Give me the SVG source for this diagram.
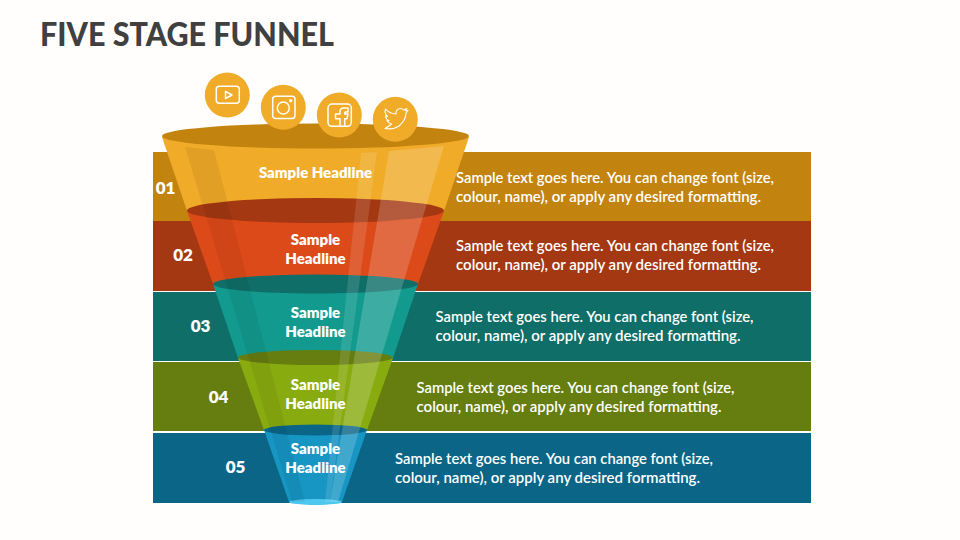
<svg xmlns="http://www.w3.org/2000/svg" width="960" height="540" viewBox="0 0 960 540">
<style>
text{font-family:"Lato","Noto Sans","Liberation Sans",sans-serif;fill:#fff;font-weight:700}
.t{font-size:15.5px;font-weight:600}
.h{font-size:15px;text-anchor:middle;font-weight:800}
.n{font-size:17px;text-anchor:middle;font-weight:800}
.dk{fill:#000;fill-opacity:.06}
.lt{fill:#fff;fill-opacity:.18}
.lt2{fill:#fff;fill-opacity:.12}
.ic{fill:none;stroke:#fff;stroke-width:1.5;stroke-linejoin:round}
.c{fill:#f0ab28}
</style>
<rect width="960" height="540" fill="#fffefd"/>
<text x="40" y="45.500" style="font-size:32px;fill:#404040;font-weight:900" textLength="294" lengthAdjust="spacingAndGlyphs">FIVE STAGE FUNNEL</text>
<g id="band1"><rect x="153" y="152" width="658" height="69" fill="#c2840f"/></g>
<g id="band2"><rect x="153" y="221" width="658" height="70" fill="#a33812"/></g>
<g id="band3"><rect x="153" y="292" width="658" height="69" fill="#0f6e68"/></g>
<g id="band4"><rect x="153" y="362" width="658" height="69" fill="#667d0f"/></g>
<g id="band5"><rect x="153" y="433" width="658" height="70" fill="#0a6587"/></g>
<g id="funnel">
<path d="M162 137L469 137L444 211L187 211Z" fill="#f0ab28"/>
<ellipse cx="315.5" cy="136" rx="153.5" ry="12.5" fill="#c2840f"/>
<path d="M187 211L444 211L418 284L213 284Z" fill="#dc4a1a"/>
<ellipse cx="315.5" cy="210.5" rx="128.5" ry="12.5" fill="#a33812"/>
<path d="M213 284L418 284L393 358L238 358Z" fill="#139a8e"/>
<ellipse cx="315.5" cy="284" rx="102.5" ry="9.5" fill="#0f6e68"/>
<path d="M238 358L393 358L367 430L264 430Z" fill="#88ab0f"/>
<ellipse cx="315.5" cy="357.5" rx="77.5" ry="7.5" fill="#667d0f"/>
<path d="M264 430L367 430L342 502L289 502Z" fill="#1795c3"/>
<ellipse cx="315.5" cy="430" rx="51.5" ry="5.5" fill="#0a6587"/>
<ellipse cx="315.5" cy="502" rx="26.5" ry="3" fill="#4fc8f0"/>
<path class="dk" d="M185 147L214 150L305 502L292 502Z"/>
<path class="lt2" d="M361 153L377 152L330 502L325 502Z"/>
<path class="lt" d="M389 151L444 146L338 502L330 502Z"/>
</g>
<g id="icon1"><circle class="c" cx="227.3" cy="95" r="22.5"/><rect class="ic" x="216.300" y="86.300" width="23" height="17" rx="3"/><path class="ic" d="M225.500 91.300L232 95L225.500 98.500Z"/></g>
<g id="icon2"><circle class="c" cx="283.300" cy="107.300" r="22.500"/><rect class="ic" x="272.700" y="96.200" width="22.300" height="22.300" rx="3"/><circle class="ic" cx="283.300" cy="108" r="6"/><circle cx="290.700" cy="100.700" r="1.700" fill="#fff"/></g>
<g id="icon3"><circle class="c" cx="339.300" cy="115" r="22.500"/><rect class="ic" x="328" y="104" width="23.300" height="22.300" rx="4"/><path class="ic" d="M340 126.300V118.700H335.500V114H340V111.500Q340 108 344 108H348V112H345.500Q344.700 112 344.700 113V114H348L347 118.700H344.700V126.300"/></g>
<g id="icon4"><circle class="c" cx="395.300" cy="119.300" r="22.500"/><path class="ic" style="stroke-width:1.100" d="M385 128.500Q393 130 399 126Q406 120 406 113L408 110.500L405.500 110.800L407 108.500L404 110Q400 107 397 110Q395.500 112 396 114Q390 114 385.500 109Q384 113 387.500 116.500L385.500 116Q386 119.500 389 120.500L387 120.500Q388 123 391.500 124Q388.500 126.500 385 128.500Z"/></g>
<g id="labels">
<text class="h" x="315.500" y="177.500">Sample Headline</text>
<text class="h" x="315.500" y="245">Sample</text><text class="h" x="315.500" y="264">Headline</text>
<text class="h" x="315.500" y="318">Sample</text><text class="h" x="315.500" y="337">Headline</text>
<text class="h" x="315.500" y="390">Sample</text><text class="h" x="315.500" y="409">Headline</text>
<text class="h" x="315.500" y="454">Sample</text><text class="h" x="315.500" y="473">Headline</text>
<text class="n" x="165.500" y="194">01</text>
<text class="n" x="183" y="261">02</text>
<text class="n" x="200.500" y="332">03</text>
<text class="n" x="218.500" y="403">04</text>
<text class="n" x="235.500" y="473">05</text>
<text class="t" x="456" y="183" textLength="318" lengthAdjust="spacingAndGlyphs">Sample text goes here. You can change font (size,</text>
<text class="t" x="456" y="202" textLength="305" lengthAdjust="spacingAndGlyphs">colour, name), or apply any desired formatting.</text>
<text class="t" x="456" y="251" textLength="318" lengthAdjust="spacingAndGlyphs">Sample text goes here. You can change font (size,</text>
<text class="t" x="456" y="270" textLength="305" lengthAdjust="spacingAndGlyphs">colour, name), or apply any desired formatting.</text>
<text class="t" x="435.500" y="322" textLength="318" lengthAdjust="spacingAndGlyphs">Sample text goes here. You can change font (size,</text>
<text class="t" x="435.500" y="341" textLength="305" lengthAdjust="spacingAndGlyphs">colour, name), or apply any desired formatting.</text>
<text class="t" x="416.500" y="393" textLength="318" lengthAdjust="spacingAndGlyphs">Sample text goes here. You can change font (size,</text>
<text class="t" x="416.500" y="412" textLength="305" lengthAdjust="spacingAndGlyphs">colour, name), or apply any desired formatting.</text>
<text class="t" x="395" y="464" textLength="318" lengthAdjust="spacingAndGlyphs">Sample text goes here. You can change font (size,</text>
<text class="t" x="395" y="483" textLength="305" lengthAdjust="spacingAndGlyphs">colour, name), or apply any desired formatting.</text>
</g>
</svg>
